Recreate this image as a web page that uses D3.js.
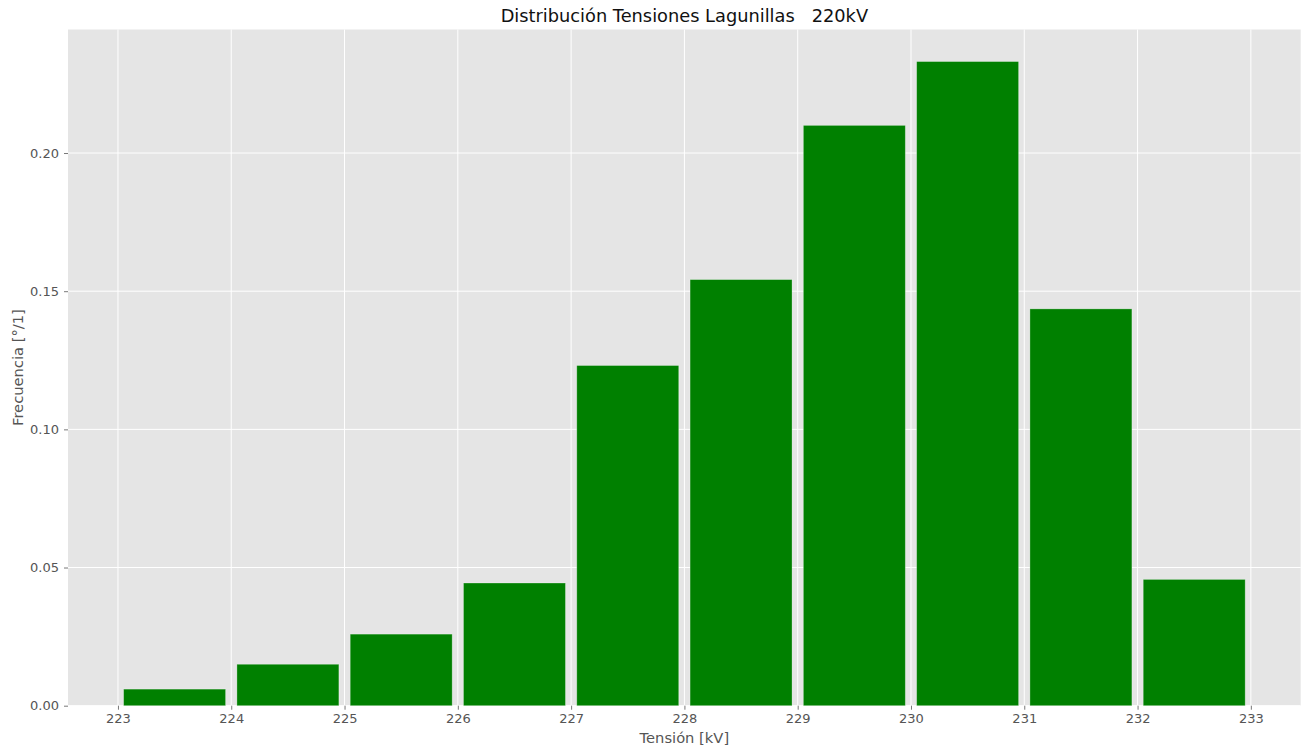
<!DOCTYPE html>
<html><head><meta charset="utf-8">
<script src="https://cdn.jsdelivr.net/npm/d3@7"></script>
<style>body{margin:0;background:#fff;} svg{display:block;}</style>
</head><body>
<svg id="chart" width="1302" height="752"></svg>
<script>
const binStarts = [223, 224, 225, 226, 227, 228, 229, 230, 231, 232];
const frequencies = [0.0060, 0.0150, 0.0259, 0.0444, 0.1231, 0.1542, 0.2100, 0.2331, 0.1436, 0.0457];
const xTicks = [223, 224, 225, 226, 227, 228, 229, 230, 231, 232, 233];
const yTicks = [0.00, 0.05, 0.10, 0.15, 0.20];
const binWidth = 1, rwidth = 0.9;

const svg = d3.select("#chart");
const L = 68, R = 1300.7, T = 29.5, B = 705.7;
const x = d3.scaleLinear().domain([222.559, 233.44]).range([L, R]);
const y = d3.scaleLinear().domain([0, 0.2447]).range([B, T]);

svg.append("rect").attr("x", L).attr("y", T).attr("width", R - L).attr("height", B - T).attr("fill", "#e5e5e5");

const grid = svg.append("g");
grid.selectAll(".gx").data(xTicks).enter().append("line")
  .attr("x1", d => x(d)).attr("x2", d => x(d)).attr("y1", T).attr("y2", B)
  .attr("stroke", "#fff").attr("stroke-width", 1);
grid.selectAll(".gy").data(yTicks).enter().append("line")
  .attr("x1", L).attr("x2", R).attr("y1", d => y(d)).attr("y2", d => y(d))
  .attr("stroke", "#fff").attr("stroke-width", 1);

svg.append("g").selectAll("rect").data(binStarts).enter().append("rect")
  .attr("x", d => x(d + binWidth * (1 - rwidth) / 2))
  .attr("width", d => x(d + binWidth * (1 + rwidth) / 2) - x(d + binWidth * (1 - rwidth) / 2))
  .attr("y", (d, i) => y(frequencies[i]))
  .attr("height", (d, i) => y(0) - y(frequencies[i]))
  .attr("fill", "#008000")
  .attr("stroke", "rgba(255,255,255,0.35)").attr("stroke-width", 0.8);

const font = "DejaVu Sans, sans-serif";
const xAxis = svg.append("g").attr("transform", `translate(0,${B})`)
  .call(d3.axisBottom(x).tickValues(xTicks).tickFormat(d3.format("d")).tickSize(4).tickPadding(4));
const yAxis = svg.append("g").attr("transform", `translate(${L},0)`)
  .call(d3.axisLeft(y).tickValues(yTicks).tickFormat(d3.format(".2f")).tickSize(4).tickPadding(5));
[xAxis, yAxis].forEach(a => {
  a.select(".domain").remove();
  a.selectAll(".tick line").attr("stroke", "#555").attr("stroke-width", 0.8);
  a.selectAll(".tick text").attr("fill", "#555").attr("font-family", font).attr("font-size", "13px");
});

svg.append("text").attr("x", (L + R) / 2).attr("y", 22).attr("text-anchor", "middle")
  .attr("font-family", font).attr("font-size", "17.8px").attr("fill", "#111")
  .attr("xml:space", "preserve").style("white-space", "pre")
  .text("Distribución Tensiones Lagunillas   220kV");
svg.append("text").attr("x", (L + R) / 2).attr("y", 743).attr("text-anchor", "middle")
  .attr("font-family", font).attr("font-size", "14.7px").attr("fill", "#555")
  .text("Tensión [kV]");
svg.append("text").attr("transform", `translate(23,${(T + B) / 2}) rotate(-90)`).attr("text-anchor", "middle")
  .attr("font-family", font).attr("font-size", "14.7px").attr("fill", "#555")
  .text("Frecuencia [°/1]");
</script>
</body></html>
